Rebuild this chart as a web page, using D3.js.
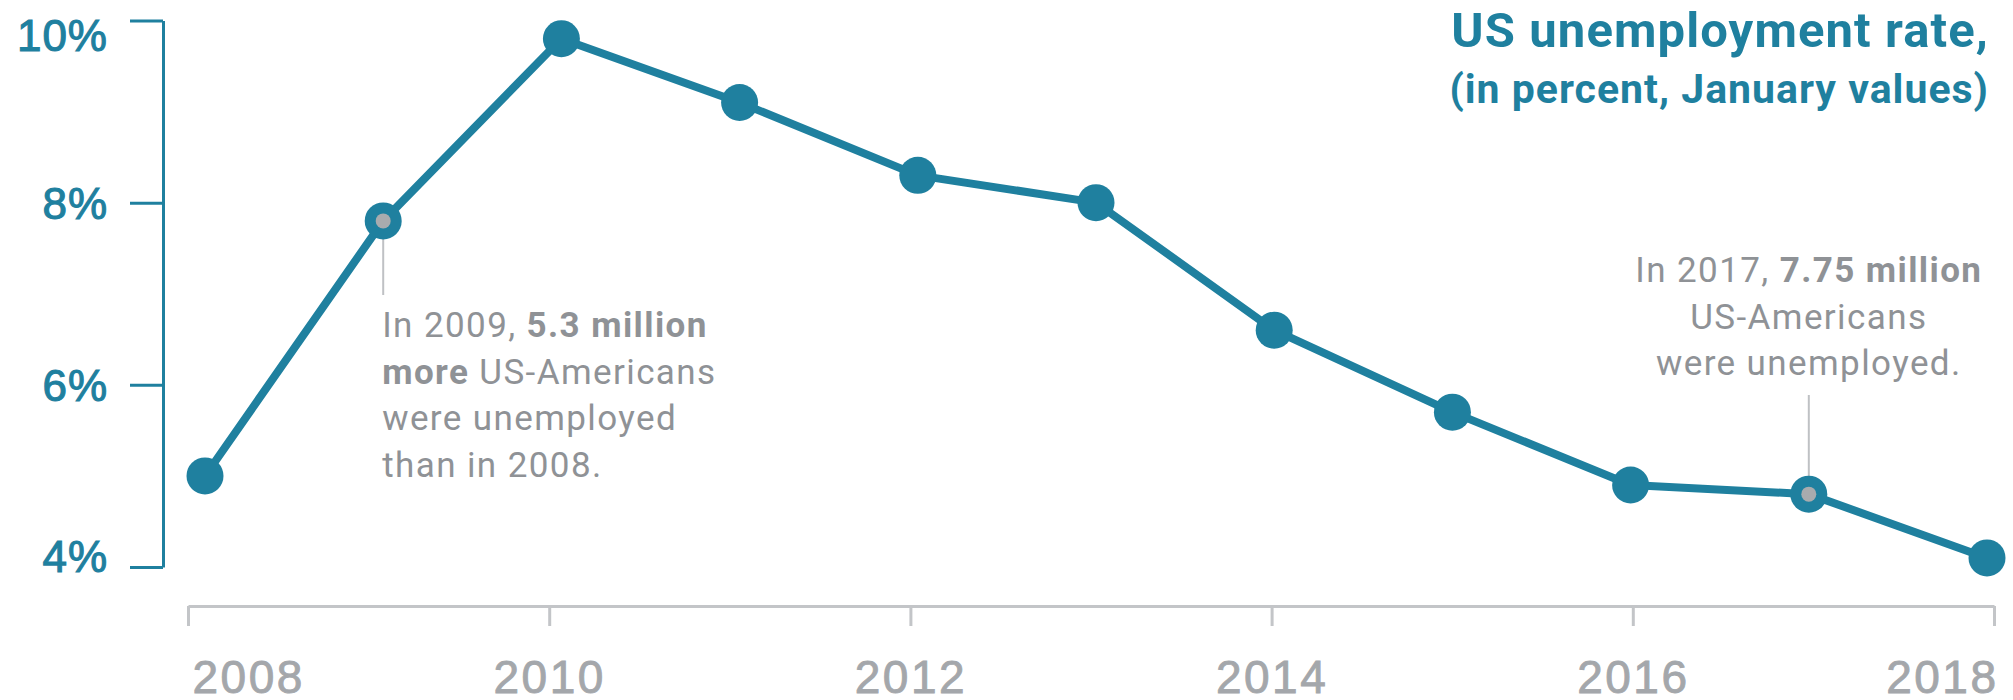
<!DOCTYPE html>
<html>
<head>
<meta charset="utf-8">
<script src="https://cdn.jsdelivr.net/npm/d3@7"></script>
<style>
  html, body { margin: 0; padding: 0; background: #ffffff; }
  svg { display: block; font-family: Roboto, "Noto Sans", sans-serif; }
</style>
</head>
<body>
<svg id="chart" width="2013" height="700"></svg>
<script>
// January unemployment rate, in percent
const years = [2008, 2009, 2010, 2011, 2012, 2013, 2014, 2015, 2016, 2017, 2018];
const rates = [5.0, 7.8, 9.8, 9.1, 8.3, 8.0, 6.6, 5.7, 4.9, 4.8, 4.1];
const yTicks = [4, 6, 8, 10];
const xTicks = [2008, 2010, 2012, 2014, 2016, 2018];
const highlightYears = [2009, 2017];

const titleLines = ["US unemployment rate,", "(in percent, January values)"];
// annotation text, each line as [text, bold] runs
const note2009 = [
  [["In 2009, ", false], ["5.3 million", true]],
  [["more", true], [" US-Americans", false]],
  [["were unemployed", false]],
  [["than in 2008.", false]]
];
const note2017 = [
  [["In 2017, ", false], ["7.75 million", true]],
  [["US-Americans", false]],
  [["were unemployed.", false]]
];

const TEAL = "#1f809f";
const GREY_AXIS = "#c3c5c8";
const GREY_TEXT = "#a4a7ab";
const NOTE_TEXT = "#8f9296";

const svg = d3.select("#chart");

const y = d3.scaleLinear().domain([4, 10]).range([567, 20.5]);
const xAxisScale = d3.scaleLinear().domain([2008, 2018]).range([188, 1994]);
const xPoint = d3.scaleLinear().domain([2008, 2018]).range([205, 1987]);

// Y axis
const yAxisG = svg.append("g")
  .attr("transform", "translate(163,0)")
  .call(d3.axisLeft(y).tickValues(yTicks).tickSize(33).tickSizeOuter(0)
    .tickFormat(d => d + "%"));
yAxisG.select(".domain").attr("stroke", TEAL).attr("stroke-width", 3);
yAxisG.selectAll(".tick line").attr("stroke", TEAL).attr("stroke-width", 3);
yAxisG.selectAll(".tick text")
  .attr("x", -55)
  .attr("fill", TEAL)
  .attr("stroke", TEAL)
  .attr("stroke-width", 1.1)
  .attr("font-size", 44)
  .attr("letter-spacing", 1)
  .attr("dy", "0.36em")
  // end labels sit a little inside the axis extent
  .attr("transform", d => d === 10 ? "translate(0,14)" : d === 4 ? "translate(0,-11)" : null);

// X axis
const xAxisG = svg.append("g")
  .attr("transform", "translate(0,606)")
  .call(d3.axisBottom(xAxisScale).tickValues(xTicks).tickSize(20).tickSizeOuter(0)
    .tickFormat(d3.format("d")));
xAxisG.select(".domain").attr("stroke", GREY_AXIS).attr("stroke-width", 3);
xAxisG.selectAll(".tick line").attr("stroke", GREY_AXIS).attr("stroke-width", 3);
xAxisG.selectAll(".tick text")
  .attr("y", 87)
  .attr("dy", 0)
  .attr("fill", GREY_TEXT)
  .attr("stroke", GREY_TEXT)
  .attr("stroke-width", 0.9)
  .attr("font-size", 46)
  .attr("letter-spacing", 2.5)
  .attr("text-anchor", (d, i) => i === 0 ? "start" : i === xTicks.length - 1 ? "end" : "middle")
  .attr("dx", (d, i) => i === 0 ? 4 : i === xTicks.length - 1 ? 4 : 0);

// Leader lines for the annotations
const leaderG = svg.append("g").attr("stroke", "#bfc1c4").attr("stroke-width", 2);
leaderG.append("line")
  .attr("x1", xPoint(2009)).attr("x2", xPoint(2009))
  .attr("y1", y(rates[years.indexOf(2009)])).attr("y2", 295);
leaderG.append("line")
  .attr("x1", xPoint(2017)).attr("x2", xPoint(2017))
  .attr("y1", 395).attr("y2", y(rates[years.indexOf(2017)]));

// Line
const data = years.map((yr, i) => ({ year: yr, rate: rates[i] }));
svg.append("path")
  .datum(data)
  .attr("fill", "none")
  .attr("stroke", TEAL)
  .attr("stroke-width", 8)
  .attr("stroke-linejoin", "round")
  .attr("d", d3.line().x(d => xPoint(d.year)).y(d => y(d.rate)));

// Points
svg.append("g").selectAll("circle")
  .data(data)
  .join("circle")
  .attr("cx", d => xPoint(d.year))
  .attr("cy", d => y(d.rate))
  .attr("r", 18.5)
  .attr("fill", TEAL);

svg.append("g").selectAll("circle")
  .data(data.filter(d => highlightYears.includes(d.year)))
  .join("circle")
  .attr("cx", d => xPoint(d.year))
  .attr("cy", d => y(d.rate))
  .attr("r", 7.5)
  .attr("fill", "#a9abae");

// Title
const title = svg.append("g").attr("fill", TEAL).attr("font-weight", 700).attr("text-anchor", "end");
title.append("text").attr("x", 1989).attr("y", 47).attr("font-size", 49)
  .attr("letter-spacing", 1.1).text(titleLines[0]);
title.append("text").attr("x", 1989).attr("y", 103).attr("font-size", 41)
  .attr("letter-spacing", 1).text(titleLines[1]);

// Annotations
function drawNote(lines, x, y0, anchor) {
  const t = svg.append("text")
    .attr("fill", NOTE_TEXT)
    .attr("font-size", 35)
    .attr("letter-spacing", 1.4)
    .attr("text-anchor", anchor);
  lines.forEach((runs, i) => {
    runs.forEach(([txt, bold], j) => {
      const ts = t.append("tspan").text(txt).attr("font-weight", bold ? 700 : 400);
      if (j === 0) ts.attr("x", x).attr("y", y0 + i * 46.5);
    });
  });
}
drawNote(note2009, xPoint(2009) - 1, 337, "start");
drawNote(note2017, xPoint(2017), 282, "middle");
</script>
</body>
</html>
